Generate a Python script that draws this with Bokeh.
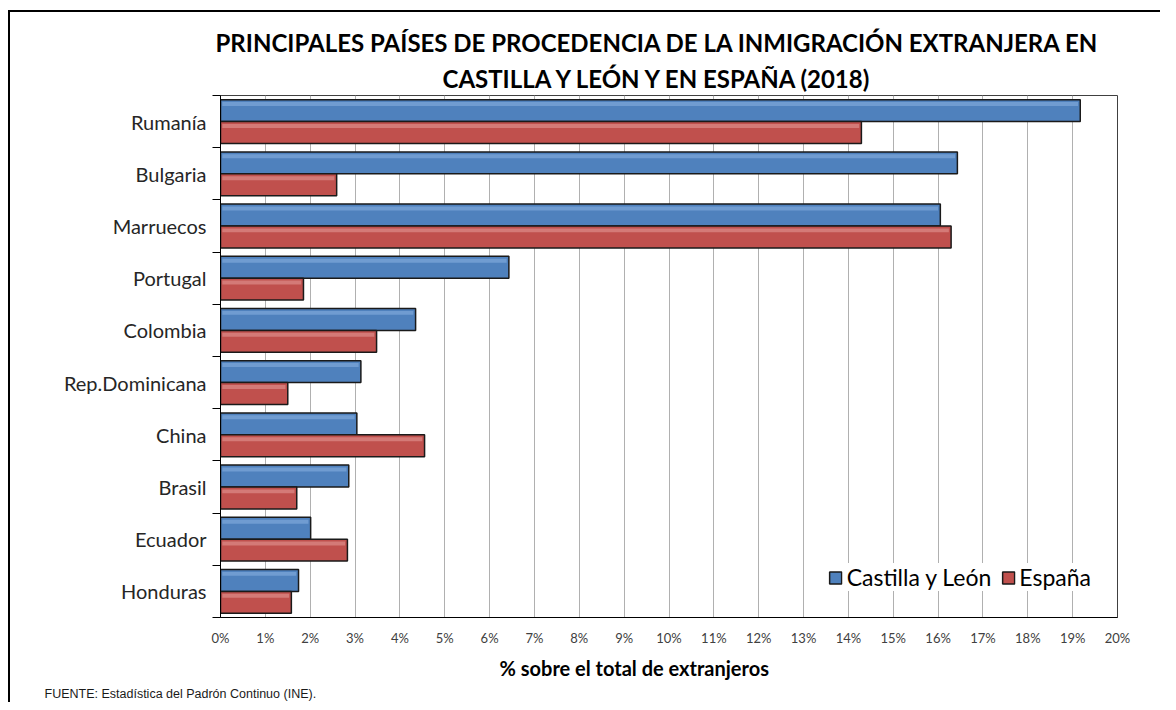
from bokeh.plotting import figure
from bokeh.layouts import column
from bokeh.models import (Range1d, FixedTicker, PrintfTickFormatter, Title,
                          Legend, LegendItem, ColumnDataSource)
from bokeh.embed import file_html
from bokeh.resources import INLINE

countries = ["Rumanía", "Bulgaria", "Marruecos", "Portugal", "Colombia",
             "Rep.Dominicana", "China", "Brasil", "Ecuador", "Honduras"]
castilla_leon = [19.17, 16.43, 16.05, 6.43, 4.35, 3.13, 3.04, 2.86, 2.01, 1.74]
espana = [14.29, 2.59, 16.29, 1.85, 3.48, 1.50, 4.55, 1.70, 2.83, 1.58]
x_ticks = list(range(0, 21))

title_1 = "PRINCIPALES PAÍSES DE PROCEDENCIA DE LA INMIGRACIÓN EXTRANJERA EN"
title_2 = "CASTILLA Y LEÓN Y EN ESPAÑA (2018)"
x_label = "% sobre el total de extranjeros"
source_txt = "FUENTE:  Estadística del Padrón Continuo (INE)."

BLUE = "#4F81BD"
RED = "#C0504D"
FONT = "Lato"

idx = list(range(len(countries)))
centers = [i + 0.5 for i in idx]
bar_h = 0.42
y_blue = [c - bar_h / 2 for c in centers]
y_red = [c + bar_h / 2 for c in centers]

src = ColumnDataSource(dict(
    yb=y_blue, yr=y_red, cyl=castilla_leon, esp=espana,
    ybh=[y - bar_h * 0.3 for y in y_blue], yrh=[y - bar_h * 0.3 for y in y_red],
    cylh=[v - 0.05 for v in castilla_leon], esph=[v - 0.05 for v in espana],
))

p = figure(width=1150, height=690, output_backend="svg", toolbar_location=None,
           x_range=Range1d(0, 20), y_range=Range1d(10, 0),
           min_border_left=210, min_border_right=43, min_border_top=83,
           min_border_bottom=85, title=None)
p.background_fill_color = "white"
p.border_fill_color = "white"
p.outline_line_color = "#404040"
p.outline_line_width = 1

r_blue = p.hbar(y="yb", right="cyl", left=0, height=bar_h, source=src,
                fill_color=BLUE, line_color="#1a1a1a", line_width=1.5)
r_red = p.hbar(y="yr", right="esp", left=0, height=bar_h, source=src,
               fill_color=RED, line_color="#1a1a1a", line_width=1.5)
# bevel highlights
p.hbar(y="ybh", right="cylh", left=0.04, height=bar_h * 0.18, source=src,
       fill_color="#8DB3E2", fill_alpha=0.55, line_color=None)
p.hbar(y="yrh", right="esph", left=0.04, height=bar_h * 0.18, source=src,
       fill_color="#E49C9A", fill_alpha=0.55, line_color=None)

# x axis
xa = p.xaxis[0]
xa.ticker = FixedTicker(ticks=x_ticks)
xa.formatter = PrintfTickFormatter(format="%d%%")
xa.major_tick_out = 0
xa.major_tick_in = 0
xa.minor_tick_out = 0
xa.minor_tick_in = 0
xa.axis_line_color = "black"
xa.axis_line_width = 1
xa.major_label_text_font = FONT
xa.major_label_text_font_size = "13px"
xa.major_label_text_color = "#404040"
xa.major_label_standoff = 12

# y axis
ya = p.yaxis[0]
ya.ticker = FixedTicker(ticks=centers, minor_ticks=[float(i) for i in range(11)])
ya.major_label_overrides = {c: name for c, name in zip(centers, countries)}
ya.major_tick_out = 0
ya.major_tick_in = 0
ya.minor_tick_out = 8
ya.minor_tick_in = 0
ya.minor_tick_line_color = "black"
ya.axis_line_color = "black"
ya.major_label_text_font = FONT
ya.major_label_text_font_size = "20px"
ya.major_label_text_color = "#262626"
ya.major_label_standoff = 6

p.xgrid.grid_line_color = "#B0B0B0"
p.xgrid.grid_line_width = 1
p.ygrid.grid_line_color = None

legend = Legend(items=[LegendItem(label="Castilla y León", renderers=[r_blue]),
                       LegendItem(label="España", renderers=[r_red])],
                location="bottom_right", orientation="horizontal",
                margin=26, padding=5, spacing=9, label_standoff=4,
                glyph_width=15, glyph_height=15,
                label_text_font=FONT, label_text_font_size="23px",
                label_text_color="black",
                background_fill_color="white", background_fill_alpha=1.0,
                border_line_color=None)
p.add_layout(legend, "center")

# titles (inner line first, outer line second)
p.add_layout(Title(text=title_2, align="left", offset=222, text_font=FONT,
                   text_font_style="bold", text_font_size="24px",
                   text_color="black", standoff=6), "above")
p.add_layout(Title(text=title_1, align="left", offset=-5, text_font=FONT,
                   text_font_style="bold", text_font_size="24px",
                   text_color="black", standoff=4), "above")

# bottom texts
p.add_layout(Title(text=x_label, align="left", offset=279, text_font=FONT,
                   text_font_style="bold", text_font_size="20px",
                   text_color="black", standoff=10), "below")
p.add_layout(Title(text=source_txt, align="left", offset=-176,
                   text_font="Liberation Sans", text_font_style="normal",
                   text_font_size="12.5px", text_color="#1a1a1a", standoff=0), "below")

layout = column(p, styles={"margin-top": "10px", "margin-left": "8px",
                           "border-top": "2.5px solid black",
                           "border-left": "2.5px solid black"})

open("out.html", "w").write(file_html(layout, INLINE))
